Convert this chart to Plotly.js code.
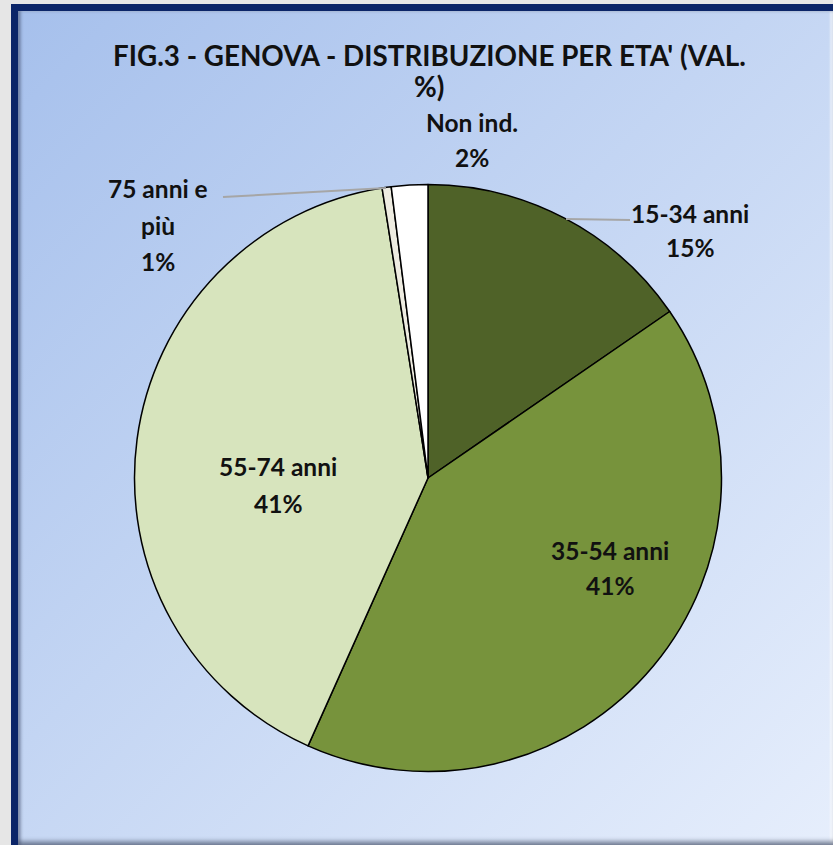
<!DOCTYPE html>
<html>
<head>
<meta charset="utf-8">
<script src="https://cdn.plot.ly/plotly-3.0.1.min.js"></script>
<style>
  html, body { margin: 0; padding: 0; background: #E6E6E6; }
  #frame {
    position: absolute; left: 11px; top: 4px; width: 815px; height: 834px;
    border-left: 7px solid #0B2568; border-top: 7px solid #0B2568;
    background: linear-gradient(135deg, #A6C0EC 0%, #C3D5F3 45%, #E6EEFC 100%);
    box-shadow: inset 3px 0 3px rgba(60,70,100,0.45), inset 0 -6px 4px -2px rgba(70,80,105,0.6), inset -3px 0 2px rgba(255,255,255,0.6);
    box-sizing: content-box;
  }
  #chart { position: absolute; left: 0; top: 0; width: 833px; height: 845px; }
</style>
</head>
<body>
<div id="frame"></div>
<div id="chart"></div>
<script>
// Data
var labels = ["15-34 anni", "35-54 anni", "55-74 anni", "75 anni e più", "Non ind."];
var values = [15.4, 41.3, 40.8, 0.5, 2.0];
var pctLabels = ["15%", "41%", "41%", "1%", "2%"];
var colors = ["#4F6228", "#77933C", "#D7E4BD", "#EEECE1", "#FFFFFF"];
var titleLines = ["FIG.3 - GENOVA - DISTRIBUZIONE PER ETA' (VAL.", "%)"];

var W = 833, H = 845;
function px(x) { return x / W; }
function py(y) { return 1 - y / H; }

var cx = 428, cy = 478, r = 293.5;

var trace = {
  type: "pie",
  labels: labels,
  values: values,
  sort: false,
  direction: "clockwise",
  rotation: 0,
  textinfo: "none",
  hoverinfo: "label+percent",
  marker: { colors: colors, line: { color: "#000000", width: 1.5 } },
  domain: { x: [px(cx - r), px(cx + r)], y: [py(cy + r), py(cy - r)] },
  showlegend: false
};

// label line breaks and pixel positions of each line centre
var labelLines = [
  ["15-34 anni"], ["35-54 anni"], ["55-74 anni"], ["75 anni e", "più"], ["Non ind."]
];
var labelPos = [
  { x: 690, y: [213, 247] },
  { x: 610, y: [550, 585] },
  { x: 278, y: [467, 503] },
  { x: 158, y: [188, 225, 262] },
  { x: 472, y: [123, 158] }
];

var font = { family: "Lato, 'Open Sans', sans-serif", size: 24.5, color: "#111111" };
var annotations = [];
labels.forEach(function (lab, i) {
  var lines = labelLines[i].concat([pctLabels[i]]);
  lines.forEach(function (t, j) {
    annotations.push({
      xref: "paper", yref: "paper",
      x: px(labelPos[i].x), y: py(labelPos[i].y[j]),
      xanchor: "center", yanchor: "middle",
      text: "<b>" + t + "</b>", showarrow: false, font: font
    });
  });
});
var titleY = [55, 86];
titleLines.forEach(function (t, j) {
  annotations.push({
    xref: "paper", yref: "paper",
    x: px(429), y: py(titleY[j]),
    xanchor: "center", yanchor: "middle",
    text: "<b>" + t + "</b>", showarrow: false,
    font: { family: "Lato, 'Open Sans', sans-serif", size: 27.8, color: "#111111" }
  });
});

var shapes = [
  { type: "line", xref: "paper", yref: "paper",
    x0: px(223), y0: py(197), x1: px(386), y1: py(188),
    line: { color: "#A6A6A6", width: 2 } },
  { type: "line", xref: "paper", yref: "paper",
    x0: px(566), y0: py(219), x1: px(630), y1: py(220),
    line: { color: "#A6A6A6", width: 2 } }
];

var layout = {
  width: W, height: H,
  margin: { l: 0, r: 0, t: 0, b: 0 },
  paper_bgcolor: "rgba(0,0,0,0)",
  plot_bgcolor: "rgba(0,0,0,0)",
  annotations: annotations,
  shapes: shapes,
  showlegend: false
};

Plotly.newPlot("chart", [trace], layout, { displayModeBar: false, staticPlot: true });
</script>
</body>
</html>
